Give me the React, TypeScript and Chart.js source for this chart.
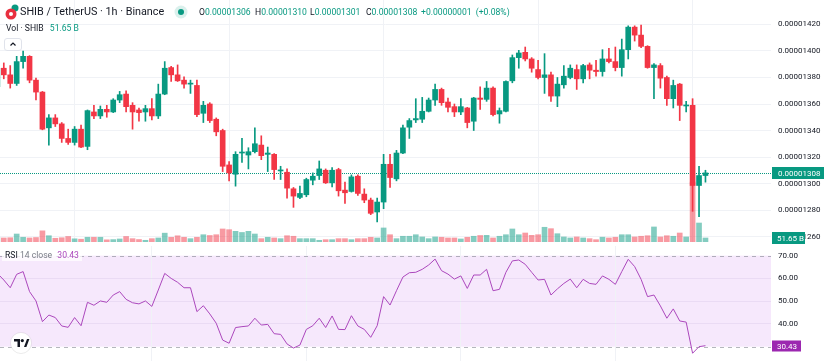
import React, { useEffect, useRef } from "react";
import { Chart, registerables } from "chart.js";

Chart.register(...registerables);

// Prices are stored in units of 1e-8 USDT
const PRICE_UNIT = 1e-8;

const opens = [
  1373, 1387, 1382, 1375.5, 1392, 1396, 1378, 1369, 1342, 1349.5,
  1345, 1334, 1331, 1341, 1328, 1354, 1351, 1356, 1354, 1363,
  1367.5, 1359, 1355.5, 1354, 1356.5, 1351, 1367.5, 1387.5, 1382, 1378,
  1375, 1374, 1353, 1360, 1348.5, 1340, 1314, 1307, 1323, 1321.5,
  1324, 1329, 1322, 1322, 1309.5, 1308.5, 1296, 1289.5, 1291.5, 1302.5,
  1306, 1310, 1300.5, 1310.5, 1295, 1294, 1305.5, 1292, 1287.5, 1278.5,
  1286, 1314.5, 1303.5, 1323, 1342.5, 1348, 1348.5, 1354.5, 1363, 1371,
  1361.5, 1358, 1354, 1357, 1347, 1364.5, 1363.5, 1372, 1352.5, 1354.5,
  1377.5, 1395, 1399, 1394, 1386, 1380, 1382, 1366, 1374.5, 1380,
  1386, 1379, 1389.5, 1385.5, 1384.5, 1394, 1392, 1387.5, 1401, 1418,
  1412, 1403.5, 1387.5, 1389, 1380, 1364, 1375, 1358.5, 1359, 1298.5,
  1306,
];
const highs = [
  1389, 1391, 1389, 1396, 1400, 1396.5, 1379.5, 1369.5, 1352, 1352,
  1346, 1341, 1343, 1344, 1355.5, 1359, 1358.5, 1359, 1364, 1369.5,
  1370, 1361, 1357, 1359, 1364, 1375, 1392, 1388.5, 1389.5, 1380.5,
  1378, 1378, 1362, 1361, 1349.5, 1341, 1316.5, 1324, 1334, 1327,
  1342, 1336, 1327.5, 1322.5, 1313, 1311, 1297, 1298, 1304, 1308,
  1317, 1311, 1312, 1311.5, 1301, 1306.5, 1306.5, 1296, 1289, 1289,
  1322, 1322, 1325, 1344, 1349, 1364, 1365, 1364.5, 1375, 1372,
  1364.5, 1360, 1364, 1357.5, 1365, 1373, 1377, 1373, 1357, 1377.5,
  1397, 1400.5, 1403, 1395, 1393, 1398, 1384, 1380, 1389, 1389.5,
  1389.5, 1390, 1391, 1393, 1401, 1402, 1403, 1409, 1419, 1419,
  1419.5, 1404, 1390.5, 1390.5, 1381, 1378, 1375.5, 1362, 1364, 1313,
  1310,
];
const lows = [
  1371, 1379, 1372, 1374, 1387, 1376, 1363, 1340.5, 1329, 1343,
  1331, 1329.5, 1329, 1327, 1325.5, 1349, 1349, 1350, 1353.5, 1361,
  1354, 1341, 1347, 1347, 1348, 1349, 1367, 1377, 1377, 1372,
  1368, 1350.5, 1346, 1346, 1336, 1309, 1302, 1298, 1316, 1311,
  1323, 1318, 1309, 1303, 1303, 1289, 1282, 1288.5, 1290, 1299,
  1303, 1300, 1297.5, 1290.5, 1285, 1293.5, 1291, 1285.5, 1276.5, 1271,
  1281, 1297, 1302, 1322.5, 1334, 1346, 1346, 1354, 1359, 1359,
  1354, 1350.5, 1352, 1342, 1340, 1356, 1362, 1351, 1345.5, 1354,
  1376, 1387, 1392.5, 1384, 1379, 1368, 1362, 1358, 1372, 1379,
  1371, 1376, 1379, 1381, 1381, 1391, 1385, 1381, 1394, 1407.5,
  1402.5, 1387, 1364, 1372, 1359, 1357, 1347.5, 1354, 1279, 1275,
  1301,
];
const closes = [
  1387, 1382, 1375.5, 1392, 1396, 1378, 1369, 1341, 1349.5, 1345,
  1334, 1331, 1341, 1327.5, 1355, 1351, 1356, 1354, 1363, 1367,
  1358, 1354, 1353.5, 1356.5, 1351, 1367.5, 1387, 1382, 1377.5, 1375,
  1375.5, 1352, 1359, 1347.5, 1339, 1313, 1308, 1322, 1323.5, 1324,
  1330, 1321, 1323, 1310.5, 1310, 1296.5, 1290.5, 1292.5, 1303, 1305.5,
  1311, 1300.5, 1310, 1294.5, 1293, 1305, 1292.5, 1287.5, 1277.5, 1286,
  1314.5, 1304.5, 1323, 1342, 1347.5, 1349, 1354.5, 1363, 1371, 1361,
  1357.5, 1354, 1358, 1346, 1364.5, 1363.5, 1372, 1352, 1355, 1377,
  1395, 1398.5, 1394, 1387, 1380, 1382, 1366, 1375, 1381, 1387,
  1379, 1389, 1385.5, 1384.5, 1394, 1392, 1387.5, 1401, 1418, 1412,
  1403.5, 1387.5, 1389.5, 1379.5, 1364, 1374, 1359, 1359, 1298.5, 1306,
  1308,
];
// Volume in billions of SHIB
const volumes = [
  60, 52, 55, 103, 61, 52, 58, 144, 81, 48,
  55, 71, 41, 36, 61, 61, 61, 28, 31, 39,
  71, 43, 32, 22, 43, 52, 114, 61, 80, 61,
  43, 61, 94, 84, 94, 168, 159, 138, 123, 138,
  103, 43, 61, 52, 43, 81, 74, 43, 43, 43,
  22, 30, 30, 43, 43, 30, 43, 43, 61, 52,
  181, 94, 43, 74, 74, 94, 65, 43, 65, 61,
  52, 52, 39, 61, 74, 84, 86, 52, 74, 94,
  168, 94, 116, 86, 94, 190, 172, 107, 65, 52,
  65, 52, 43, 30, 62, 52, 61, 94, 94, 65,
  74, 81, 194, 65, 81, 74, 116, 65, 774, 245,
  51.65,
];
// RSI(14, close)
const rsiValues = [
  62.2, 59.3, 55.9, 61.8, 63.0, 54.2, 50.1, 41.0, 43.9, 42.8,
  39.1, 38.5, 42.8, 39.2, 49.5, 48.2, 50.1, 49.5, 52.7, 54.2,
  50.8, 49.3, 48.8, 50.1, 47.7, 54.9, 62.2, 60.0, 58.3, 55.9,
  55.9, 45.4, 48.0, 44.4, 40.3, 32.9, 31.5, 38.4, 38.8, 39.1,
  42.5, 39.5, 39.8, 35.7, 35.4, 31.2, 29.4, 30.7, 37.6, 39.2,
  42.5, 38.4, 43.5, 37.6, 37.5, 43.6, 39.1, 37.6, 34.1, 39.2,
  52.0, 48.3, 54.6, 60.6, 62.5, 62.7, 64.0, 65.9, 68.5, 63.4,
  61.9, 59.7, 61.1, 55.6, 61.5, 61.5, 64.0, 54.6, 55.2, 62.7,
  67.7, 68.1, 66.2, 62.7, 59.3, 59.6, 52.7, 55.4, 57.8, 59.7,
  55.9, 59.6, 57.8, 57.4, 61.1, 59.6, 57.4, 63.0, 68.4, 65.2,
  59.6, 52.0, 52.7, 47.9, 42.5, 46.6, 41.3, 40.8, 27.1, 30.0,
  30.43,
];

const priceTicks = [1260, 1280, 1300, 1320, 1340, 1360, 1380, 1400, 1420];
const rsiTicks = [40, 50, 60, 70];
const rsiBands = [30, 70];
const dayLines = [24, 48, 72, 96];

// Header legend texts
const SYMBOL_TITLE = "SHIB / TetherUS · 1h · Binance";
const CHANGE_ABS = "+0.00000001";
const CHANGE_PCT = "(+0.08%)";

const UP = "#089981";
const DOWN = "#F23645";
const UP_VOL = "rgba(8,153,129,0.5)";
const DOWN_VOL = "rgba(242,54,69,0.5)";
const GRID = "#f0f2f6";
const RSI_LINE = "#ab47bc";
const RSI_BOX = "#9c27b0";
const FONT = "Roboto";

const X_MIN = 0.41;
const X_MAX = 120.18;

const App = () => {
  const mainRef = useRef<HTMLCanvasElement>(null);
  const rsiRef = useRef<HTMLCanvasElement>(null);

  useEffect(() => {
    const idx = closes.map((_, i) => i);
    const last = closes.length - 1;
    const isUp = (i: number) => closes[i] >= opens[i];

    const xScale = {
      type: "linear" as const,
      min: X_MIN,
      max: X_MAX,
      offset: false,
      grid: { color: GRID, drawTicks: false },
      border: { display: false },
      ticks: { display: false },
      afterBuildTicks: (s: any) => {
        s.ticks = dayLines.map((v) => ({ value: v }));
      },
      afterFit: (s: any) => {
        s.height = 0;
        s.paddingLeft = 0;
        s.paddingRight = 0;
      },
    };

    const mainOverlay = {
      id: "mainOverlay",
      beforeDatasetsDraw(chart: any) {
        const { ctx, chartArea, scales } = chart;
        const y = Math.round(scales.y.getPixelForValue(closes[last])) + 0.5;
        ctx.save();
        ctx.strokeStyle = UP;
        ctx.lineWidth = 1;
        ctx.setLineDash([1, 1]);
        ctx.beginPath();
        ctx.moveTo(chartArea.left, y);
        ctx.lineTo(chartArea.right, y);
        ctx.stroke();
        ctx.restore();
      },
      afterDraw(chart: any) {
        const { ctx, chartArea, scales } = chart;
        ctx.save();
        ctx.font = `8px ${FONT}`;
        ctx.textBaseline = "middle";
        ctx.textAlign = "left";
        const y = scales.y.getPixelForValue(closes[last]);
        ctx.fillStyle = UP;
        ctx.fillRect(chartArea.right + 1, Math.round(y) - 6, 52, 12);
        ctx.fillStyle = "#ffffff";
        ctx.fillText((closes[last] * PRICE_UNIT).toFixed(8), chartArea.right + 7, Math.round(y) + 0.5);
        const yv = scales.yv.getPixelForValue(volumes[last]);
        ctx.fillStyle = UP;
        ctx.fillRect(chartArea.right + 1, Math.round(yv) - 6, 33, 12);
        ctx.fillStyle = "#ffffff";
        ctx.fillText(volumes[last].toFixed(2) + " B", chartArea.right + 6, Math.round(yv) + 0.5);
        ctx.restore();
      },
    };

    const main = new Chart(mainRef.current!, {
      type: "bar",
      data: {
        datasets: [
          {
            label: "body",
            data: idx.map((i) => ({ x: i, y: [opens[i], closes[i]] })) as any,
            backgroundColor: idx.map((i) => (isUp(i) ? UP : DOWN)),
            barThickness: 5,
            minBarLength: 1,
            grouped: false,
            yAxisID: "y",
            order: 0,
          } as any,
          {
            label: "wick",
            data: idx.map((i) => ({ x: i, y: [lows[i], highs[i]] })) as any,
            backgroundColor: idx.map((i) => (isUp(i) ? UP : DOWN)),
            barThickness: 1,
            grouped: false,
            yAxisID: "y",
            order: 1,
          } as any,
          {
            label: "volume",
            data: idx.map((i) => ({ x: i, y: volumes[i] })) as any,
            backgroundColor: idx.map((i) => (isUp(i) ? UP_VOL : DOWN_VOL)),
            barThickness: 5,
            grouped: false,
            yAxisID: "yv",
            order: 2,
          } as any,
        ],
      },
      options: {
        responsive: false,
        animation: false,
        layout: { padding: { left: 0, right: 0, top: 0, bottom: 4 } },
        plugins: { legend: { display: false }, tooltip: { enabled: false } },
        events: [],
        scales: {
          x: xScale as any,
          y: {
            position: "right",
            min: 1255.85,
            max: 1438.49,
            grid: { color: GRID, drawTicks: false },
            border: { display: false },
            ticks: {
              color: "#131722",
              padding: 7,
              font: { size: 8, family: FONT },
              callback: (v: any) => (Number(v) * PRICE_UNIT).toFixed(8),
            },
            afterBuildTicks: (s: any) => {
              s.ticks = priceTicks.map((v) => ({ value: v }));
            },
            afterFit: (s: any) => {
              s.width = 54;
              s.paddingTop = 0;
              s.paddingBottom = 0;
            },
          } as any,
          yv: {
            display: false,
            min: 0,
            max: 3122.6,
          },
        },
      },
      plugins: [mainOverlay],
    });

    const rsiOverlay = {
      id: "rsiOverlay",
      beforeDraw(chart: any) {
        const { ctx, chartArea, scales } = chart;
        const yTop = scales.y.getPixelForValue(rsiBands[1]);
        const yBot = scales.y.getPixelForValue(rsiBands[0]);
        ctx.save();
        ctx.fillStyle = "rgba(179,64,230,0.12)";
        ctx.fillRect(chartArea.left, yTop, chartArea.right - chartArea.left, yBot - yTop);
        ctx.restore();
      },
      beforeDatasetsDraw(chart: any) {
        const { ctx, chartArea, scales } = chart;
        ctx.save();
        ctx.strokeStyle = "rgba(120,123,134,0.55)";
        ctx.lineWidth = 1;
        ctx.setLineDash([4, 4]);
        rsiBands.forEach((b) => {
          const y = Math.round(scales.y.getPixelForValue(b)) + 0.5;
          ctx.beginPath();
          ctx.moveTo(chartArea.left, y);
          ctx.lineTo(chartArea.right, y);
          ctx.stroke();
        });
        ctx.restore();
      },
      afterDraw(chart: any) {
        const { ctx, chartArea, scales } = chart;
        const v = rsiValues[rsiValues.length - 1];
        const y = Math.round(scales.y.getPixelForValue(v));
        ctx.save();
        ctx.fillStyle = RSI_BOX;
        ctx.fillRect(chartArea.right + 1, y - 5.5, 29, 11);
        ctx.fillStyle = "#ffffff";
        ctx.font = `8px ${FONT}`;
        ctx.textBaseline = "middle";
        ctx.textAlign = "left";
        ctx.fillText(v.toFixed(2), chartArea.right + 6, y + 0.5);
        ctx.restore();
      },
    };

    const rsiChart = new Chart(rsiRef.current!, {
      type: "line",
      data: {
        datasets: [
          {
            label: "RSI",
            data: idx.map((i) => ({ x: i, y: rsiValues[i] })),
            borderColor: RSI_LINE,
            borderWidth: 1,
            pointRadius: 0,
            tension: 0,
            fill: false,
          },
        ],
      },
      options: {
        responsive: false,
        animation: false,
        layout: { padding: 0 },
        plugins: { legend: { display: false }, tooltip: { enabled: false } },
        events: [],
        scales: {
          x: xScale as any,
          y: {
            position: "right",
            min: 23.7,
            max: 74.25,
            grid: {
              drawTicks: false,
              color: (c: any) => (c.tick && c.tick.value === 70 ? "rgba(0,0,0,0)" : "rgba(150,120,190,0.12)"),
            },
            border: { display: false },
            ticks: {
              color: "#131722",
              padding: 7,
              font: { size: 8, family: FONT },
              callback: (v: any) => Number(v).toFixed(2),
            },
            afterBuildTicks: (s: any) => {
              s.ticks = rsiTicks.map((v) => ({ value: v }));
            },
            afterFit: (s: any) => {
              s.width = 54;
              s.paddingTop = 0;
              s.paddingBottom = 0;
            },
          } as any,
        },
      },
      plugins: [rsiOverlay],
    });

    return () => {
      main.destroy();
      rsiChart.destroy();
    };
  }, []);

  const text = (extra: React.CSSProperties): React.CSSProperties => ({
    position: "absolute",
    whiteSpace: "nowrap",
    fontFamily: FONT,
    ...extra,
  });

  return (
    <div
      style={{
        position: "fixed",
        left: 0,
        top: 0,
        width: 825,
        height: 361,
        background: "#ffffff",
        overflow: "hidden",
        fontFamily: FONT,
      }}
    >
      <canvas ref={mainRef} width={825} height={246} style={{ position: "absolute", left: 0, top: 0 }} />
      <canvas ref={rsiRef} width={825} height={115} style={{ position: "absolute", left: 0, top: 246 }} />

      {/* symbol icon */}
      <svg width="20" height="20" style={{ position: "absolute", left: 3, top: 3 }}>
        <circle cx="12" cy="5" r="3.5" fill={UP} />
        <circle cx="8" cy="11" r="5.5" fill="#e8303f" />
        <circle cx="8" cy="11" r="2" fill="#ffffff" />
      </svg>
      <div style={text({ left: 20, top: 5, fontSize: 10.8, lineHeight: "14px", color: "#131722" })}>
        {SYMBOL_TITLE}
      </div>
      <svg width="14" height="14" style={{ position: "absolute", left: 174, top: 5 }}>
        <circle cx="7" cy="7" r="6.5" fill="rgba(8,153,129,0.15)" />
        <circle cx="7" cy="7" r="3" fill={UP} />
      </svg>
      {[
        { l: "O", v: opens[opens.length - 1], x: 199 },
        { l: "H", v: highs[highs.length - 1], x: 255 },
        { l: "L", v: lows[lows.length - 1], x: 310 },
        { l: "C", v: closes[closes.length - 1], x: 366 },
      ].map((g) => (
        <div key={g.l} style={text({ left: g.x, top: 5, fontSize: 8.6, lineHeight: "14px", color: "#131722" })}>
          {g.l}
          <span style={{ color: UP }}>{(g.v * PRICE_UNIT).toFixed(8)}</span>
        </div>
      ))}
      <div style={text({ left: 421, top: 5, fontSize: 8.6, lineHeight: "14px", color: UP })}>
        {CHANGE_ABS} <span style={{ marginLeft: 2 }}>{CHANGE_PCT}</span>
      </div>

      <div style={text({ left: 6, top: 21, fontSize: 8.6, lineHeight: "14px", color: "#131722" })}>
        Vol · SHIB <span style={{ color: UP, marginLeft: 4 }}>{volumes[volumes.length - 1].toFixed(2)} B</span>
      </div>

      <div
        style={{
          position: "absolute",
          left: 4,
          top: 38,
          width: 18,
          height: 13,
          boxSizing: "border-box",
          border: "1px solid #e0e3eb",
          borderRadius: 3,
          background: "#ffffff",
        }}
      >
        <svg width="16" height="11" style={{ position: "absolute", left: 0, top: 0 }}>
          <path d="M5.5 6.5 L8 4 L10.5 6.5" stroke="#131722" strokeWidth="1.2" fill="none" />
        </svg>
      </div>

      <div
        style={text({
          left: 2,
          top: 249,
          height: 12,
          padding: "0 3px",
          fontSize: 8.6,
          lineHeight: "12px",
          color: "#131722",
          background: "rgba(255,255,255,0.75)",
        })}
      >
        RSI <span style={{ color: "#787b86" }}>14 close</span>{" "}
        <span style={{ color: RSI_LINE, marginLeft: 3 }}>{rsiValues[rsiValues.length - 1].toFixed(2)}</span>
      </div>

      {/* logo */}
      <svg width="24" height="24" style={{ position: "absolute", left: 9, top: 331 }}>
        <circle cx="12" cy="12" r="10.5" fill="#ffffff" stroke="rgba(0,0,0,0.08)" />
        <path d="M5 8h6v8H8.5v-5.5H5z" fill="#131722" />
        <circle cx="13.3" cy="9.6" r="1.6" fill="#131722" />
        <path d="M15 16l3-8h2.4l-3 8z" fill="#131722" />
      </svg>
    </div>
  );
};

export default App;
